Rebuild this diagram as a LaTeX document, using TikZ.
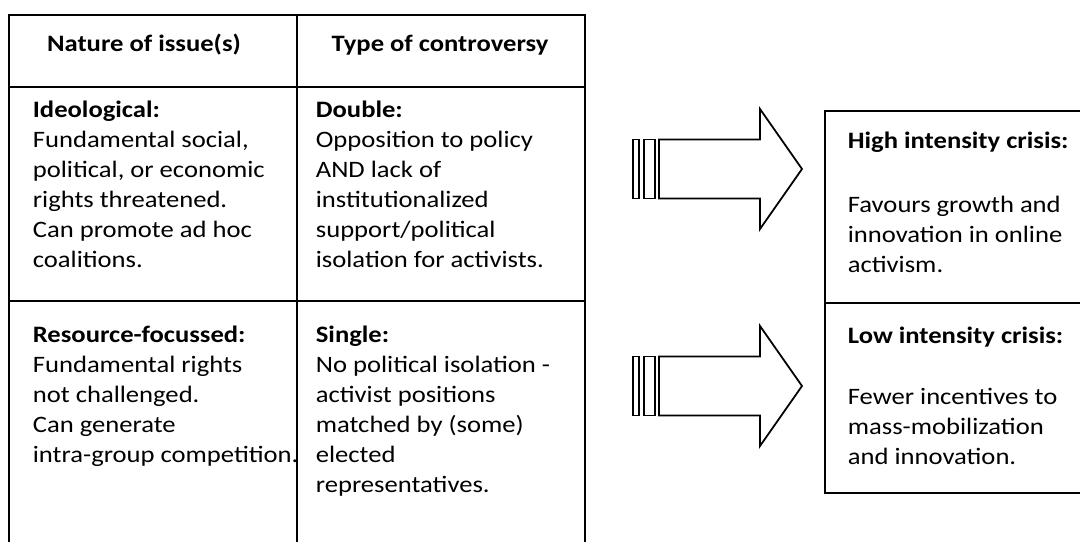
\documentclass[tikz,border=0pt]{standalone}
\usepackage{fontspec}
\setmainfont{Carlito}[FakeStretch=1.13]

\begin{document}
\begin{tikzpicture}[line width=1pt,
	txt/.style={anchor=base west, align=left, inner sep=0pt, font=\fontsize{13.4}{17.07}\selectfont},
	head/.style={anchor=base, inner sep=0pt, font=\bfseries\fontsize{13.4}{17.07}\selectfont}]
	\useasboundingbox (0,0) rectangle (21.6,-10.82);
	\clip (0,0) rectangle (21.6,-10.82);
	
	%table
	\draw (0.18,-11) -- (0.18,-0.30) -- (11.70,-0.30) -- (11.70,-11);
	\draw (5.94,-0.30) -- (5.94,-11);
	\draw (0.18,-1.74) -- (11.70,-1.74);
	\draw (0.18,-6.02) -- (11.70,-6.02);
	
	\node[head] (nature) at (2.88,-1.02) {Nature of issue(s)};
	\node[head] (type) at (8.80,-1.02) {Type of controversy};
	
	% text nodes sit on the baseline of their last line
	\node[txt] (ideo) at (0.64,-5.34) {\textbf{Ideological:}\\Fundamental social,\\political, or economic\\rights threatened.\\Can promote ad hoc\\coalitions.};
	\node[txt] (double) at (6.30,-5.34) {\textbf{Double:}\\Opposition to policy\\AND lack of\\institutionalized\\support/political\\isolation for activists.};
	\node[txt] (resource) at (0.64,-9.24) {\textbf{Resource-focussed:}\\Fundamental rights\\not challenged.\\Can generate\\intra-group competition.};
	\node[txt] (single) at (6.30,-9.84) {\textbf{Single:}\\No political isolation -\\activist positions\\matched by (some)\\elected\\representatives.};
	
	%arrows
	\foreach \y in {-3.38,-7.72}
	{
		\draw (12.66,\y-0.59) rectangle (12.78,\y+0.59);
		\draw (12.88,\y-0.59) rectangle (13.10,\y+0.59);
		\draw (13.18,\y-0.59) -- (15.20,\y-0.59) -- (15.20,\y-1.2) -- (16.04,\y)
			-- (15.20,\y+1.2) -- (15.20,\y+0.59) -- (13.18,\y+0.59) -- cycle;
	}
	
	%crisis box
	\draw (22,-2.22) -- (16.5,-2.22) -- (16.5,-9.86) -- (22,-9.86);
	\draw (16.5,-6.06) -- (22,-6.06);
	
	\node[txt, font=\bfseries\fontsize{13.4}{17.07}\selectfont] (high) at (16.94,-2.96) {High intensity crisis:};
	\node[txt] (hightext) at (16.94,-5.44) {Favours growth and\\innovation in online\\activism.};
	\node[txt, font=\bfseries\fontsize{13.4}{17.07}\selectfont] (low) at (16.94,-6.86) {Low intensity crisis:};
	\node[txt] (lowtext) at (16.94,-9.28) {Fewer incentives to\\mass-mobilization\\and innovation.};
\end{tikzpicture}
\end{document}
